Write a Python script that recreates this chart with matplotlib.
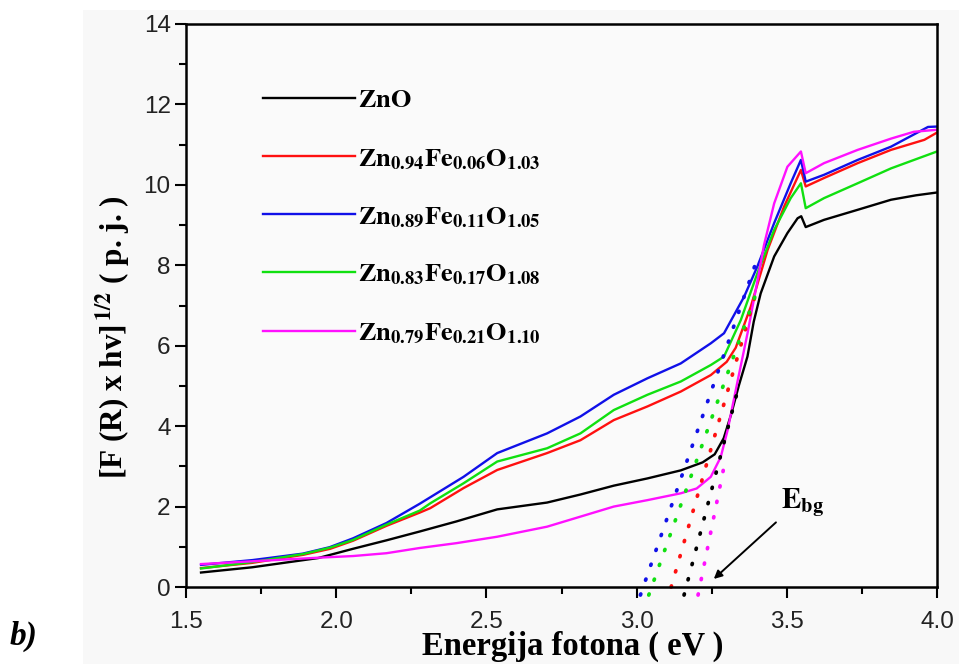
import matplotlib
matplotlib.use("Agg")
import matplotlib.pyplot as plt
from matplotlib.patches import Rectangle
import numpy as np

plt.rcParams["mathtext.fontset"] = "stix"

# Photon energy (eV) and [F(R) x hv]^(1/2) for each sample
e_zno = [1.55, 1.72, 1.94, 2.056, 2.167, 2.278, 2.4, 2.536, 2.702, 2.813, 2.924, 3.036,
         3.147, 3.22, 3.26, 3.29, 3.315, 3.34, 3.369, 3.39, 3.413, 3.458, 3.502, 3.536,
         3.548, 3.563, 3.624, 3.736, 3.847, 3.93, 4.0]
y_zno = [0.36, 0.49, 0.72, 0.95, 1.16, 1.38, 1.63, 1.93, 2.1, 2.3, 2.52, 2.7,
         2.9, 3.1, 3.3, 3.7, 4.3, 5.0, 5.73, 6.6, 7.3, 8.22, 8.8, 9.17,
         9.22, 8.95, 9.13, 9.38, 9.63, 9.74, 9.81]

e_fe06 = [1.55, 1.72, 1.89, 1.98, 2.056, 2.167, 2.278, 2.313, 2.424, 2.536, 2.702, 2.813,
          2.924, 3.036, 3.147, 3.247, 3.30, 3.33, 3.38, 3.436, 3.491, 3.547, 3.563, 3.624,
          3.736, 3.847, 3.958, 4.0]
y_fe06 = [0.47, 0.6, 0.8, 0.95, 1.15, 1.52, 1.85, 1.96, 2.46, 2.91, 3.33, 3.65,
          4.15, 4.49, 4.86, 5.27, 5.6, 5.95, 6.97, 8.38, 9.46, 10.37, 9.96, 10.17,
          10.54, 10.87, 11.12, 11.3]

e_fe11 = [1.55, 1.722, 1.889, 1.978, 2.056, 2.167, 2.278, 2.424, 2.536, 2.702, 2.813,
          2.924, 3.036, 3.147, 3.247, 3.291, 3.358, 3.402, 3.458, 3.513, 3.547, 3.563,
          3.624, 3.736, 3.847, 3.97, 4.0]
y_fe11 = [0.55, 0.67, 0.83, 0.99, 1.21, 1.59, 2.07, 2.74, 3.33, 3.82, 4.24,
          4.78, 5.19, 5.56, 6.06, 6.31, 7.22, 7.97, 9.05, 10.04, 10.62, 10.08,
          10.25, 10.62, 10.95, 11.44, 11.45]

e_fe17 = [1.55, 1.72, 1.89, 1.98, 2.056, 2.167, 2.278, 2.313, 2.424, 2.536, 2.702, 2.813,
          2.924, 3.036, 3.147, 3.247, 3.291, 3.347, 3.402, 3.458, 3.513, 3.547, 3.563,
          3.624, 3.736, 3.847, 4.0]
y_fe17 = [0.46, 0.62, 0.82, 0.98, 1.17, 1.55, 1.9, 2.08, 2.58, 3.12, 3.45, 3.82,
          4.4, 4.78, 5.11, 5.52, 5.73, 6.64, 7.8, 8.88, 9.67, 10.04, 9.42,
          9.67, 10.04, 10.41, 10.83]

e_fe21 = [1.55, 1.722, 1.944, 2.056, 2.167, 2.278, 2.4, 2.536, 2.702, 2.813, 2.924, 3.036,
          3.147, 3.2, 3.247, 3.28, 3.303, 3.337, 3.369, 3.402, 3.424, 3.458, 3.502, 3.547,
          3.563, 3.624, 3.736, 3.847, 3.923, 4.0]
y_fe21 = [0.57, 0.64, 0.73, 0.77, 0.84, 0.97, 1.09, 1.25, 1.5, 1.75, 2.0, 2.16,
          2.33, 2.45, 2.74, 3.23, 3.9, 5.15, 6.3, 7.6, 8.5, 9.54, 10.45, 10.83,
          10.29, 10.54, 10.87, 11.15, 11.32, 11.37]

labels = [r"$\mathbf{ZnO}$",
          r"$\mathbf{Zn_{0.94}Fe_{0.06}O_{1.03}}$",
          r"$\mathbf{Zn_{0.89}Fe_{0.11}O_{1.05}}$",
          r"$\mathbf{Zn_{0.83}Fe_{0.17}O_{1.08}}$",
          r"$\mathbf{Zn_{0.79}Fe_{0.21}O_{1.10}}$"]
colors = ["#000000", "#ff1010", "#1010e8", "#10e010", "#ff10ff"]
energies = [e_zno, e_fe06, e_fe11, e_fe17, e_fe21]
values = [y_zno, y_fe06, y_fe11, y_fe17, y_fe21]

# Linear extrapolation of the absorption edge: band-gap intercept, slope, y-extent
edge_gap = [3.165, 3.115, 3.022, 3.05, 3.21]
edge_slope = [28.5, 25.9, 21.5, 21.0, 37.0]
edge_ylow = [-0.2, 0.0, -0.2, -0.2, -0.2]
edge_yhigh = [5.0, 7.3, 8.0, 7.5, 3.0]

fig = plt.figure(figsize=(9.59, 6.64), dpi=100)
fig.patches.append(Rectangle((83 / 959, 0), 1 - 83 / 959, 1 - 10 / 664,
                             transform=fig.transFigure, facecolor="#f8f8f8",
                             edgecolor="none", zorder=-10))
ax = fig.add_axes([186 / 959, 1 - 587 / 664, (937 - 186) / 959, (587 - 24) / 664])
ax.set_facecolor("#fafafa")

for e, v, c, lab in zip(energies, values, colors, labels):
    ax.plot(e, v, color=c, lw=1.7, label=lab, solid_joinstyle="round")

for g, s, lo, hi, c in zip(edge_gap, edge_slope, edge_ylow, edge_yhigh, colors):
    yy = np.array([lo, hi])
    ax.plot(g + yy / s, yy, color=c, lw=2.7, linestyle=(0, (0.3, 3.9)),
            dash_capstyle="round", clip_on=False)

ax.set_xlim(1.5, 4.0)
ax.set_ylim(0, 14)
ax.set_xticks([1.5, 2.0, 2.5, 3.0, 3.5, 4.0])
ax.set_xticks(np.arange(1.75, 4.0, 0.5), minor=True)
ax.set_yticks(range(0, 15, 2))
ax.set_yticks(range(1, 14, 2), minor=True)
ax.set_xticklabels(["1.5", "2.0", "2.5", "3.0", "3.5", "4.0"])

for sp in ax.spines.values():
    sp.set_linewidth(1.8)
ax.tick_params(which="both", direction="out", top=False, right=False,
               width=1.5, colors="black", labelcolor="#222222")
ax.tick_params(which="major", length=8, labelsize=17.5)
ax.tick_params(axis="x", which="major", pad=9)
ax.tick_params(axis="y", which="major", pad=3)
ax.tick_params(which="minor", length=5)
for t in ax.get_xticklabels() + ax.get_yticklabels():
    t.set_family("Liberation Sans")

ax.set_xlabel("Energija fotona ( eV )", fontsize=23.5, fontweight="bold",
              family="Liberation Serif")
ax.xaxis.set_label_coords(0.515, -0.078)
ax.set_ylabel(r"[F (R) x hv]$^{\,\mathbf{1/2}}$ ( p. j. )", fontsize=22.5,
              fontweight="bold", family="Liberation Serif")
ax.yaxis.set_label_coords(-0.07, 0.444)

ax.legend(loc="upper left", bbox_to_anchor=(0.1025, 0.888), frameon=False,
          fontsize=19, handlelength=3.5, handletextpad=0.1, labelspacing=1.22,
          borderpad=0, borderaxespad=0)

ax.annotate(r"$\mathbf{E_{bg}}$", xy=(3.257, 0.2), xytext=(3.48, 1.97),
            fontsize=21, ha="left", va="baseline",
            arrowprops=dict(arrowstyle="-|>", color="black", lw=1.4,
                            mutation_scale=12, shrinkA=2, shrinkB=0,
                            relpos=(0.0, 0.0)))

fig.text(10 / 959, 1 - 636 / 664, "b)", fontsize=24, fontweight="bold",
         fontstyle="italic", family="Liberation Serif", va="center", ha="left")

fig.savefig("out.png", dpi=100, facecolor="white")
